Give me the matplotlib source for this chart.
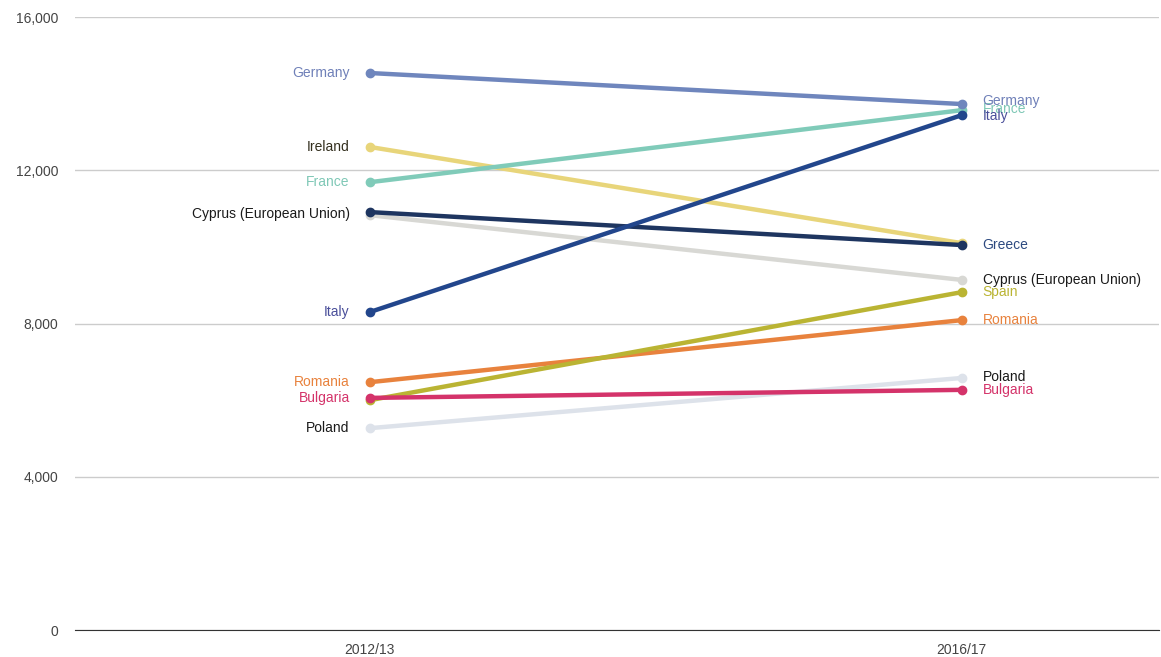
import matplotlib
matplotlib.use("Agg")
import matplotlib.pyplot as plt

plt.rcParams['font.family'] = ['Liberation Sans', 'DejaVu Sans']

periods = ["2012/13", "2016/17"]
countries = ["Poland", "Cyprus (European Union)", "Ireland", "Greece", "France",
             "Germany", "Romania", "Spain", "Bulgaria", "Italy"]
start_vals = [5270, 10830, 12610, 10910, 11690, 14540, 6470, 6000, 6060, 8300]
end_vals = [6580, 9140, 10100, 10050, 13570, 13730, 8090, 8820, 6270, 13440]

line_colors = {
    "Germany": "#6f86bd", "France": "#80cbb9", "Italy": "#22468c",
    "Ireland": "#e8d57a", "Greece": "#1e3560", "Cyprus (European Union)": "#d8d8d4",
    "Spain": "#bab433", "Romania": "#e8823d", "Bulgaria": "#d4336a",
    "Poland": "#dde2ea",
}
label_colors = {
    "Germany": "#6f80b8", "France": "#7fc8b6", "Italy": "#4a4f9a",
    "Ireland": "#332f1e", "Greece": "#2d4a80", "Cyprus (European Union)": "#1a1a1a",
    "Spain": "#bab433", "Romania": "#e8823d", "Bulgaria": "#d4336a",
    "Poland": "#1a1a1a",
}
hide_left = {"Greece", "Spain"}
hide_right = {"Ireland"}
# small vertical nudges (points) for crowded labels
nudge_left = {"Cyprus (European Union)": 1}
nudge_right = {"Germany": 2.5, "France": 0.5, "Italy": -0.5, "Poland": 1}

fig = plt.figure(figsize=(11.61, 6.57), dpi=100)
ax = fig.add_axes([0.0646, 0.041, 0.934, 0.933])

for i, c in enumerate(countries):
    ax.plot([0, 1], [start_vals[i], end_vals[i]], color=line_colors[c], lw=3.2,
            marker="o", ms=6, solid_capstyle="round", zorder=3 + i)
    if c not in hide_left:
        ax.annotate(c, (0, start_vals[i]), xytext=(-14.5, nudge_left.get(c, 0)),
                    textcoords="offset points", ha="right", va="center",
                    fontsize=10, color=label_colors[c])
    if c not in hide_right:
        ax.annotate(c, (1, end_vals[i]), xytext=(15, nudge_right.get(c, 0)),
                    textcoords="offset points", ha="left", va="center",
                    fontsize=10, color=label_colors[c])

ax.set_xlim(-0.498, 1.334)
ax.set_ylim(0, 16000)
ax.set_yticks([0, 4000, 8000, 12000, 16000])
ax.set_yticklabels(["0", "4,000", "8,000", "12,000", "16,000"])
ax.set_xticks([0, 1])
ax.set_xticklabels(periods)
ax.grid(axis="y", color="#cccccc", lw=1)
ax.set_axisbelow(True)
for s in ["top", "right", "left"]:
    ax.spines[s].set_visible(False)
ax.spines["bottom"].set_color("#333333")
ax.tick_params(axis="both", length=0, labelsize=10, colors="#444444")
ax.tick_params(axis="y", pad=12)
ax.tick_params(axis="x", pad=9)

fig.savefig("out.png", dpi=100)
